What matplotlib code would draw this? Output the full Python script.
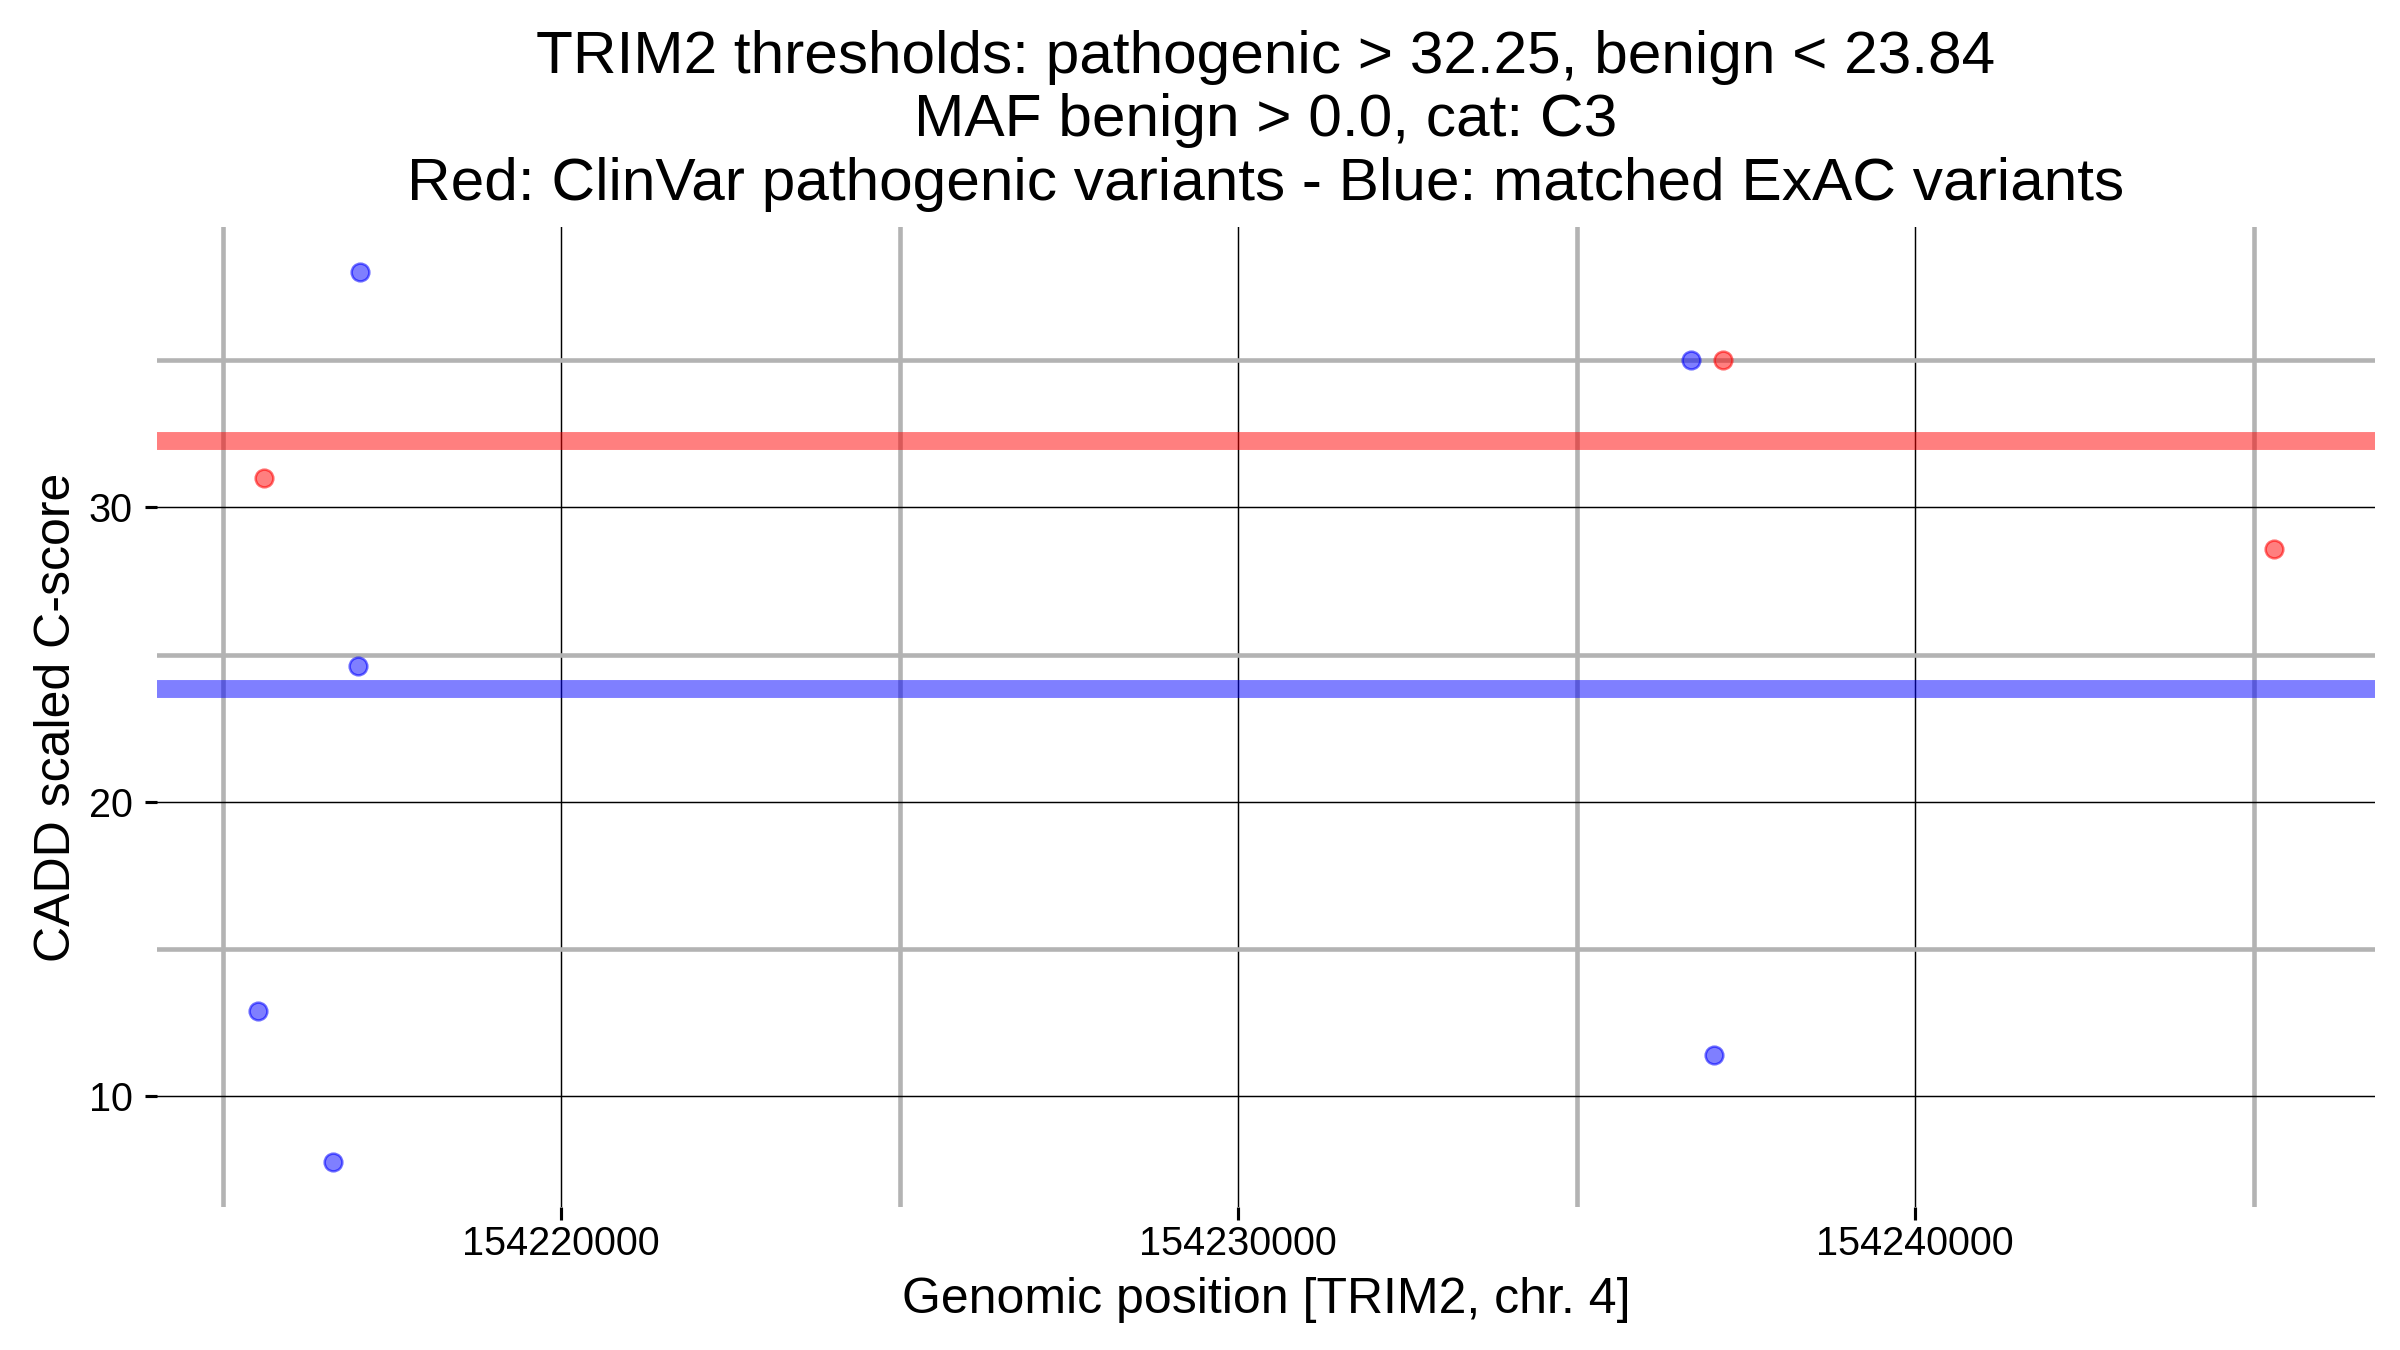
#CADD scores of ClinVar pathogenic vs matched ExAC variants in TRIM2
import numpy as np
import matplotlib.pyplot as plt

plt.rcParams['font.family'] = ['Liberation Sans', 'DejaVu Sans']

# ClinVar pathogenic variants (red)
path_pos = [154215612, 154237163, 154245305]
path_cadd = [31.01, 35.0, 28.60]

# matched ExAC variants (blue)
benign_pos = [154217024, 154217001, 154215513, 154216625, 154236696, 154237030]
benign_cadd = [38.01, 24.61, 12.89, 7.75, 35.0, 11.40]

path_thr = 32.25
benign_thr = 23.84

x_major = [154220000, 154230000, 154240000]
x_labels = ['154220000', '154230000', '154240000']
x_minor = [154215000, 154225000, 154235000, 154245000]
y_major = [10, 20, 30]
y_labels = ['10', '20', '30']
y_minor = [15, 25, 35]

title = ('TRIM2 thresholds: pathogenic > 32.25, benign < 23.84\n'
         'MAF benign > 0.0, cat: C3\n'
         'Red: ClinVar pathogenic variants - Blue: matched ExAC variants')

fig = plt.figure(figsize=(16, 9), dpi=150)
ax = fig.add_axes([0.06529, 0.10593, 0.92429, 0.72593])

# 点
ax.scatter(path_pos, path_cadd, s=72, color=(1, 0, 0, 0.5),
           edgecolors=(1, 0, 0, 0.55), linewidths=1.2, zorder=3)
ax.scatter(benign_pos, benign_cadd, s=72, color=(0, 0, 1, 0.5),
           edgecolors=(0, 0, 1, 0.55), linewidths=1.2, zorder=3)

# 阈值线
ax.axhline(path_thr, color='red', alpha=0.5, lw=8.6, zorder=4)
ax.axhline(benign_thr, color='blue', alpha=0.5, lw=8.6, zorder=4)

ax.margins(0.05)

ax.set_xticks(x_major)
ax.set_xticklabels(x_labels)
ax.set_xticks(x_minor, minor=True)
ax.set_yticks(y_major)
ax.set_yticklabels(y_labels)
ax.set_yticks(y_minor, minor=True)

ax.grid(which='minor', color='#b3b3b3', lw=2.2, zorder=0)
ax.grid(which='major', color='black', lw=0.7, zorder=1)
ax.set_axisbelow(True)

for s in ax.spines.values():
    s.set_visible(False)
ax.tick_params(which='major', length=6, width=1.5, color='black', labelsize=19)
ax.tick_params(axis='x', which='major', pad=2.5)
ax.tick_params(axis='y', which='major', pad=5.5)
ax.tick_params(which='minor', length=0)

ax.set_xlabel('Genomic position [TRIM2, chr. 4]', fontsize=24, labelpad=7)
ax.set_ylabel('CADD scaled C-score', fontsize=24, labelpad=4)
ax.set_title(title, fontsize=29, linespacing=1.2, pad=13)

fig.savefig('out.png', dpi=150, facecolor='white')
